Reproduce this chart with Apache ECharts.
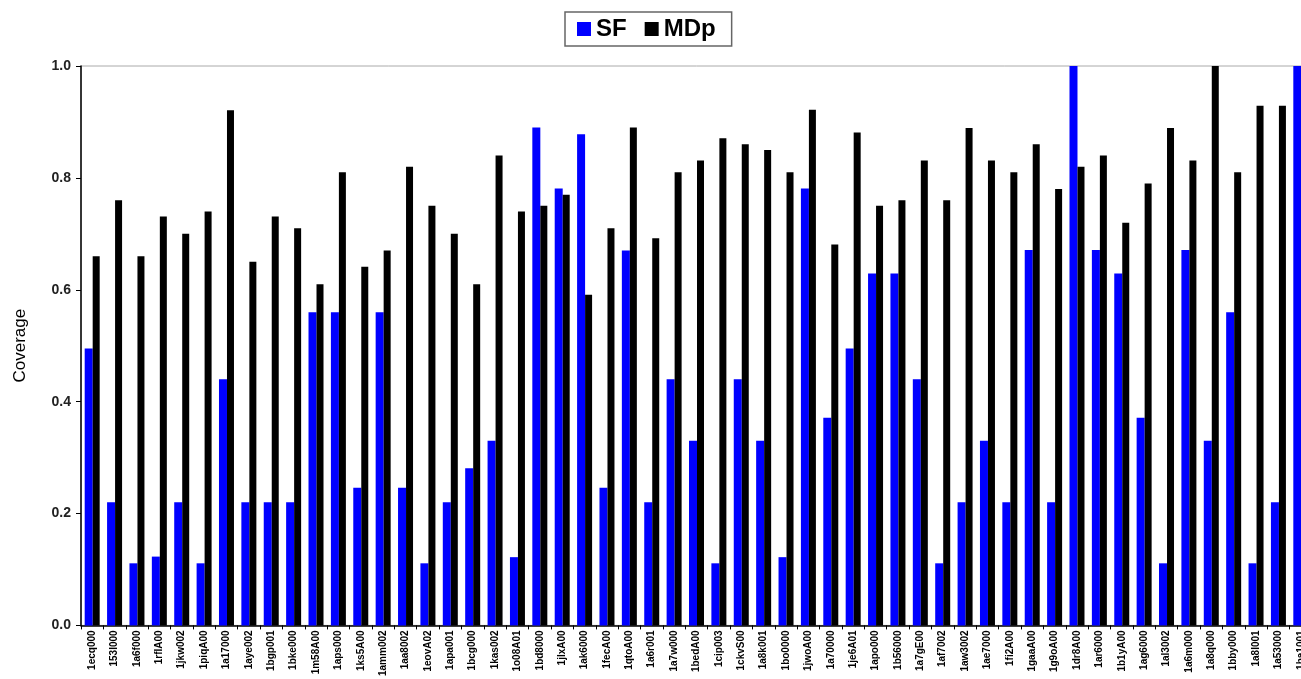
<!DOCTYPE html>
<html>
<head>
<meta charset="utf-8">
<title>Coverage</title>
<script src="https://cdn.jsdelivr.net/npm/echarts@6/dist/echarts.min.js"></script>
<style>
html, body { margin: 0; padding: 0; background: #fff; overflow: hidden; }
/* plot runs past the right edge in the original, so the canvas is a bit wider than the window */
#chart { width: 1312px; height: 679px; }
</style>
</head>
<body>
<div id="chart"></div>
<script>
var categories = ['1ecq000', '153I000', '1a6f000', '1rfIA00', '1jkw002', '1piqA00', '1a17000', '1aye002',
    '1bgp001', '1bke000', '1m58A00', '1aps000', '1ks5A00', '1amm002', '1aa8002', '1eovA02', '1apa001',
    '1bcg000', '1kas002', '1o08A01', '1bd8000', '1jlxA00', '1ak6000', '1fecA00', '1qtoA00', '1a6r001',
    '1a7w000', '1bedA00', '1cip003', '1ckvS00', '1a8k001', '1bo0000', '1jwoA00', '1a70000', '1je6A01',
    '1apo000', '1b56000', '1a7gE00', '1af7002', '1aw3002', '1ae7000', '1fi2A00', '1gaaA00', '1g9oA00',
    '1dr8A00', '1ar6000', '1b1yA00', '1ag6000', '1al3002', '1a6m000', '1a8q000', '1bby000', '1a8I001',
    '1a53000', '1ba1001'];
var sfVals = [0.495, 0.22, 0.111, 0.123, 0.22, 0.111, 0.44, 0.22, 0.22, 0.22, 0.56, 0.56, 0.246, 0.56,
    0.246, 0.111, 0.22, 0.281, 0.33, 0.122, 0.89, 0.781, 0.878, 0.246, 0.67, 0.22, 0.44, 0.33, 0.111,
    0.44, 0.33, 0.122, 0.781, 0.371, 0.495, 0.629, 0.629, 0.44, 0.111, 0.22, 0.33, 0.22, 0.671, 0.22,
    1.0, 0.671, 0.629, 0.371, 0.111, 0.671, 0.33, 0.56, 0.111, 0.22, 1.0];
var mdpVals = [0.66, 0.76, 0.66, 0.731, 0.70, 0.74, 0.921, 0.65, 0.731, 0.71, 0.61, 0.81, 0.641, 0.67,
    0.82, 0.75, 0.70, 0.61, 0.84, 0.74, 0.75, 0.77, 0.591, 0.71, 0.89, 0.692, 0.81, 0.831, 0.871, 0.86,
    0.85, 0.81, 0.922, 0.681, 0.881, 0.75, 0.76, 0.831, 0.76, 0.889, 0.831, 0.81, 0.86, 0.78, 0.82,
    0.84, 0.72, 0.79, 0.889, 0.831, 1.0, 0.81, 0.929, 0.929, null];
var yTicks = ['0.0', '0.2', '0.4', '0.6', '0.8', '1.0'];

var myChart = echarts.init(document.getElementById('chart'));
var option = {
    animation: false,
    backgroundColor: '#fff',
    legend: {
        top: 12,
        left: 565,
        icon: 'rect',
        itemWidth: 14,
        itemHeight: 14,
        itemGap: 18,
        padding: [5, 16, 5, 12],
        borderColor: '#666',
        borderWidth: 1.5,
        textStyle: { fontFamily: 'Liberation Sans', fontSize: 24, fontWeight: 'bold', color: '#000' },
        data: ['SF', 'MDp']
    },
    grid: {
        left: 81,
        top: 66,
        right: 0,
        bottom: 52,
        show: true,
        borderColor: '#aaa',
        borderWidth: 1
    },
    xAxis: {
        type: 'category',
        data: categories,
        axisLine: { lineStyle: { color: '#000', width: 1.5 } },
        axisTick: { show: true, length: 4, lineStyle: { color: '#000' } },
        axisLabel: {
            interval: 0,
            rotate: 90,
            margin: 5,
            fontFamily: 'Liberation Sans',
            fontSize: 10,
            fontWeight: 'bold',
            color: '#000'
        }
    },
    yAxis: {
        type: 'value',
        min: 0,
        max: 1,
        interval: 0.2,
        name: 'Coverage',
        nameLocation: 'middle',
        nameGap: 52,
        nameTextStyle: { fontFamily: 'Liberation Sans', fontSize: 17, color: '#000' },
        axisLine: { show: true, lineStyle: { color: '#000', width: 1.5 } },
        axisTick: { show: true, length: 5, lineStyle: { color: '#000' } },
        splitLine: { show: false },
        axisLabel: {
            margin: 10,
            fontFamily: 'Liberation Sans',
            fontSize: 14,
            fontWeight: 'bold',
            color: '#222',
            formatter: function (v) { return yTicks[Math.round(v / 0.2)]; }
        }
    },
    series: [
        {
            name: 'SF',
            type: 'bar',
            data: sfVals,
            barWidth: 8,
            barGap: '0%',
            itemStyle: { color: '#0000ff' }
        },
        {
            name: 'MDp',
            type: 'bar',
            data: mdpVals,
            barWidth: 7,
            itemStyle: { color: '#000000' }
        }
    ]
};
myChart.setOption(option);
</script>
</body>
</html>
